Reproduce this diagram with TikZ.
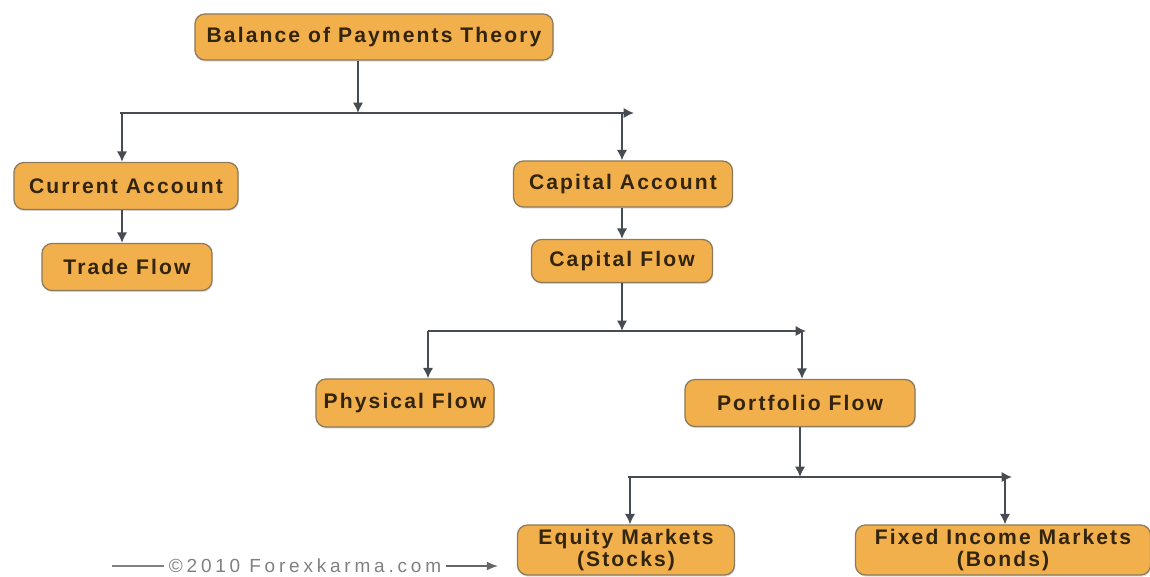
\documentclass[tikz,border=0pt]{standalone}
\usepackage{fontspec}
\setmainfont{Liberation Sans}
\usetikzlibrary{arrows.meta,shadows}
\definecolor{boxfill}{HTML}{F1B04C}
\definecolor{boxline}{HTML}{8C7A5C}
\definecolor{boxtext}{HTML}{33240E}
\definecolor{wire}{HTML}{474C52}
\tikzset{
  topic/.style={draw=boxline,fill=boxfill,rounded corners=0.25cm,line width=0.9pt,
    text=boxtext,font=\fontsize{15}{16}\selectfont\bfseries\addfontfeature{LetterSpace=10},
    align=center,inner sep=0pt,drop shadow={opacity=0.25,shadow xshift=0.5pt,shadow yshift=-1.2pt}},
  link/.style={draw=wire,line width=1.4pt,-{Latex[length=2.6mm,width=2.6mm]}},
  bar/.style={draw=wire,line width=1.4pt}
}
\begin{document}
\begin{tikzpicture}[x=0.025cm,y=-0.025cm]
  \useasboundingbox (0,0) rectangle (1150,577);
  \draw
    (374,37) node[topic,minimum width=8.95cm,minimum height=1.15cm] (bop){Balance of Payments Theory}
    (126,186) node[topic,minimum width=5.6cm,minimum height=1.175cm] (cur){Current Account}
    (127,267) node[topic,minimum width=4.25cm,minimum height=1.175cm] (trade){Trade Flow}
    (623,184) node[topic,minimum width=5.475cm,minimum height=1.15cm] (cap){Capital Account}
    (622,261) node[topic,minimum width=4.525cm,minimum height=1.075cm] (capflow){Capital Flow}
    (405,403) node[topic,minimum width=4.45cm,minimum height=1.2cm] (phys){Physical Flow}
    (800,403) node[topic,minimum width=5.75cm,minimum height=1.175cm] (port){Portfolio Flow}
    (626,550) node[topic,minimum width=5.425cm,minimum height=1.25cm] (equity){Equity Markets\\(Stocks)}
    (1003,550) node[topic,minimum width=7.375cm,minimum height=1.25cm] (fixed){Fixed Income Markets\\(Bonds)};
  % branch points
  \coordinate (bar1l) at (120,113);
  \coordinate (bar1r) at (634,113);
  \coordinate (bar2l) at (428,331);
  \coordinate (bar2r) at (806,331);
  \coordinate (bar3l) at (628,477);
  \coordinate (bar3r) at (1012,477);
  \begin{scope}
    \draw[link] (bop.south -| 358,0) -- (358,113);
    \draw[link] (bar1l) -- (bar1r);
    \draw[link] (122,113) -- (cur.north -| 122,0);
    \draw[link] (622,113) -- (cap.north -| 622,0);
    \draw[link] (cur.south -| 122,0) -- (trade.north -| 122,0);
    \draw[link] (cap.south -| 622,0) -- (capflow.north -| 622,0);
    \draw[link] (capflow.south -| 622,0) -- (622,331);
    \draw[link] (bar2l) -- (bar2r);
    \draw[link] (428,331) -- (phys.north -| 428,0);
    \draw[link] (802,331) -- (port.north -| 802,0);
    \draw[link] (port.south -| 800,0) -- (800,477);
    \draw[link] (bar3l) -- (bar3r);
    \draw[link] (630,477) -- (equity.north -| 630,0);
    \draw[link] (1005,477) -- (fixed.north -| 1005,0);
  \end{scope}
  % copyright line
  \node[text=gray,font=\fontsize{13.5}{15}\selectfont\addfontfeature{LetterSpace=20},inner sep=3pt]
    (copy) at (305,566) {©2010 Forexkarma.com};
  \coordinate (copyl) at (112,566);
  \coordinate (copyr) at (498,566);
  \draw[draw=gray,line width=1pt] (copyl) -- (copy.west);
  \draw[draw=gray!80!black,line width=1pt,-{Latex[length=2.8mm,width=2.2mm]}] (copy.east) -- (copyr);
\end{tikzpicture}
\end{document}
